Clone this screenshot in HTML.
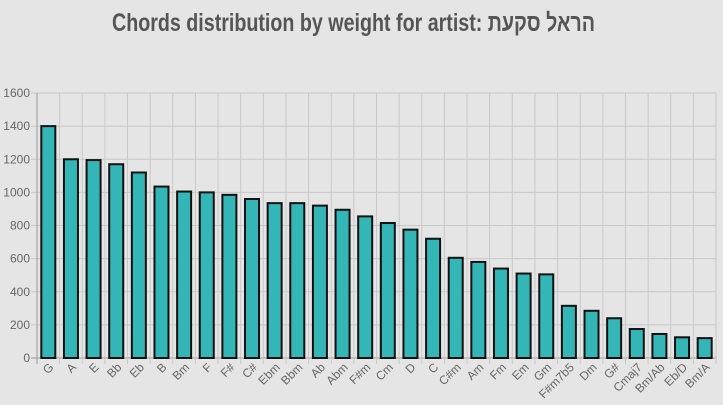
<!DOCTYPE html>
<html><head><meta charset="utf-8"><style>
body{margin:0;background:#e5e5e5;width:723px;height:405px;overflow:hidden}
svg{display:block}
</style></head><body>
<svg width="723" height="405">
<text x="112" y="31" textLength="483" lengthAdjust="spacingAndGlyphs" font-family="'Liberation Sans Narrow','Liberation Sans',sans-serif" font-weight="bold" font-size="25" fill="#555">Chords distribution by weight for artist: הראל סקעת</text>
<g id="grid"></g><g id="bars"></g><g id="axes"></g>
</svg>
<script>
const categories=["G","A","E","Bb","Eb","B","Bm","F","F#","C#","Ebm","Bbm","Ab","Abm","F#m","Cm","D","C","C#m","Am","Fm","Em","Gm","F#m7b5","Dm","G#","Cmaj7","Bm/Ab","Eb/D","Bm/A"];
const values=[1400,1200,1195,1170,1120,1035,1005,1000,985,960,935,935,920,895,855,815,775,720,605,580,540,510,505,315,285,240,175,145,125,120];
const yTicks=[0,200,400,600,800,1000,1200,1400,1600];
const NS="http://www.w3.org/2000/svg";
const x0=37,x1=716,y0=358,y1=93,ymax=1600;
const band=(x1-x0)/categories.length;
const y=v=>y0-(v/ymax)*(y0-y1);
const xs=i=>x0+i*band;
function mk(t,a,p){const e=document.createElementNS(NS,t);for(const k in a)e.setAttribute(k,a[k]);p.appendChild(e);return e;}
const grid=document.getElementById('grid'),bars=document.getElementById('bars'),axes=document.getElementById('axes');
yTicks.forEach(v=>{
  const l=mk('line',{x1:x0-6,x2:x1,y1:y(v),y2:y(v),stroke:v===0?'#999':'#c8c8c8','stroke-width':1},grid);
  
  
  const t=mk('text',{x:x0-7,y:y(v)+4,'text-anchor':'end','font-family':'Liberation Sans,sans-serif','font-size':12,fill:'#666'},axes);
  t.textContent=v;
  
  
});
for(let i=0;i<=categories.length;i++){
  const l=mk('line',{x1:xs(i),x2:xs(i),y1:y1,y2:y0+6,stroke:i===0?'#999':'#c8c8c8','stroke-width':1},grid);
  
  
}
categories.forEach((c,i)=>{
  const bw=14,bx=xs(i)+(band-bw)/2;
  const r=mk('rect',{x:bx,y:y(values[i]),width:bw,height:y0-y(values[i]),fill:'#35b6b6',stroke:'#111','stroke-width':2},bars);
  
  
  const cx=xs(i)+band/2+6,cy=y0+10;
  const t=mk('text',{x:cx,y:cy,'text-anchor':'end','font-family':'Liberation Sans,sans-serif','font-size':12,fill:'#666',transform:`rotate(-45 ${cx} ${cy})`},axes);
  t.textContent=c;
  
  
});
</script>
</body></html>
